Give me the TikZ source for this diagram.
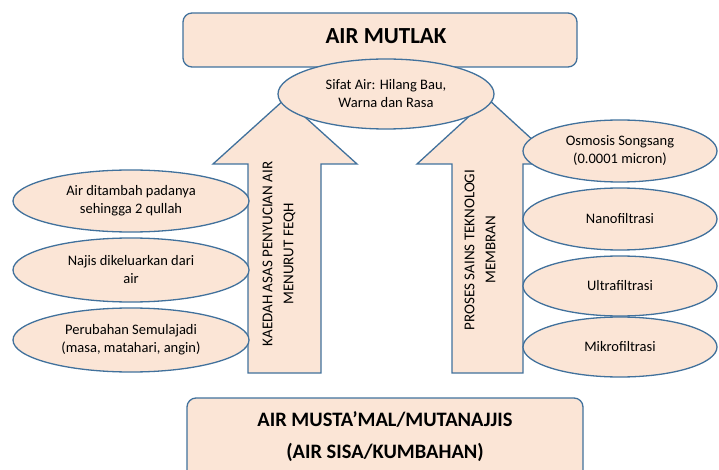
\documentclass[tikz,border=0pt]{standalone}
\usepackage{fontspec}
\setmainfont{Carlito}
\usetikzlibrary{shapes.geometric}
\definecolor{peach}{HTML}{FBE5D6}
\definecolor{edgeblue}{HTML}{41719C}
\tikzset{
  box/.style={draw=edgeblue, fill=peach, line width=1.3pt, rounded corners=9pt},
  oval/.style={ellipse, draw=edgeblue, fill=peach, line width=1.3pt, inner sep=0pt,
    align=center, font=\fontsize{14.5}{18}\selectfont},
  bigarrow/.style={draw=edgeblue, fill=peach, line width=1.3pt},
  sidetext/.style={rotate=90, align=center, font=\fontsize{15}{21}\selectfont},
}
\begin{document}
\begin{tikzpicture}[x=1pt, y=-1pt]
  \clip (0,0) rectangle (719,470);
  % top and bottom boxes
  \draw[box] (183,13) rectangle (577,67);
  \node[font=\fontsize{23}{26}\selectfont\bfseries] (mutlak) at (386,36) {AIR MUTLAK};
  \draw[box] (187,398) rectangle (583,490);
  \node[align=center, font=\fontsize{20.5}{32}\selectfont\bfseries] (mustamal) at (385,437)
    {AIR MUSTA’MAL/MUTANAJJIS\\(AIR SISA/KUMBAHAN)};
  % block arrows
  \draw[bigarrow] (248,373) -- (248,164) -- (213,164) -- (285,99)
    -- (357,164) -- (321,164) -- (321,373) -- cycle;
  \draw[bigarrow] (452,373) -- (452,164) -- (417,164) -- (488,99)
    -- (559,164) -- (523,164) -- (523,373) -- cycle;
  \node[sidetext] (feqh) at (279,254) {KAEDAH ASAS PENYUCIAN AIR\\MENURUT FEQH};
  \node[sidetext] (membran) at (480,250) {PROSES SAINS TEKNOLOGI\\MEMBRAN};
  % ellipses
  \node[oval, minimum width=216pt, minimum height=70pt] (sifat) at (386,94)
    {Sifat Air: Hilang Bau,\\Warna dan Rasa};
  \node[oval, minimum width=236pt, minimum height=62pt] (tambah) at (131,201)
    {Air ditambah padanya\\sehingga 2 qullah};
  \node[oval, minimum width=236pt, minimum height=64pt] (najis) at (131,270)
    {Najis dikeluarkan dari\\air};
  \node[oval, minimum width=236pt, minimum height=64pt] (ubah) at (131,340)
    {Perubahan Semulajadi\\(masa, matahari, angin)};
  \node[oval, minimum width=194pt, minimum height=62pt] (osmosis) at (620,151)
    {Osmosis Songsang\\(0.0001 micron)};
  \node[oval, minimum width=194pt, minimum height=62pt] (nano) at (620,219) {Nanofiltrasi};
  \node[oval, minimum width=194pt, minimum height=60pt] (ultra) at (620,286) {Ultrafiltrasi};
  \node[oval, minimum width=194pt, minimum height=60pt] (mikro) at (620,347) {Mikrofiltrasi};
\end{tikzpicture}
\end{document}
